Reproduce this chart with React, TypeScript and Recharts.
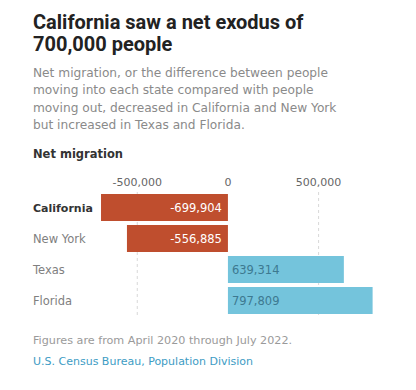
import React from 'react';
import {
  BarChart,
  Bar,
  XAxis,
  YAxis,
  CartesianGrid,
  Cell,
  LabelList,
} from 'recharts';

const states = ['California', 'New York', 'Texas', 'Florida'];
const netMigration = [-699904, -556885, 639314, 797809];
const xTicks = [-500000, 0, 500000];
const gridValues = [-500000, 500000];

const data = states.map((state, i) => ({ state, value: netMigration[i] }));

const RED = '#bf4e2e';
const BLUE = '#74c4dc';
const TITLE_FONT = 'Roboto, "Open Sans", sans-serif';
const FONT = '"DejaVu Sans", sans-serif';

const fmt = (v: number) => {
  const s = Math.abs(v).toLocaleString('en-US');
  return v < 0 ? '-' + s : s;
};

const StateTick = (props: any) => {
  const { y, payload } = props;
  const bold = payload.value === 'California';
  return (
    <text
      x={33}
      y={y}
      dy={4}
      textAnchor="start"
      fontFamily={FONT}
      fontSize={bold ? 11 : 11.5}
      fontWeight={bold ? 700 : 400}
      fill={bold ? '#333' : '#808080'}
    >
      {payload.value}
    </text>
  );
};

const ValueLabel = (props: any) => {
  const { x, y, width, height, value } = props;
  const neg = value < 0;
  // zero sits at the bar's edge nearest the axis origin
  const zero = neg ? Math.max(x, x + width) : Math.min(x, x + width);
  return (
    <text
      x={neg ? zero - 6 : zero + 4}
      y={y + height / 2}
      dy={4}
      textAnchor={neg ? 'end' : 'start'}
      fontFamily={FONT}
      fontSize={11.5}
      fill={neg ? '#fff' : '#3d7990'}
    >
      {fmt(value)}
    </text>
  );
};

export default function App() {
  return (
    <div
      style={{
        position: 'absolute',
        left: 0,
        top: 0,
        width: 416,
        height: 390,
        background: '#fff',
        fontFamily: FONT,
      }}
    >
      <div
        style={{
          position: 'absolute',
          left: 33,
          top: 11,
          fontFamily: TITLE_FONT,
          fontSize: 20,
          fontWeight: 700,
          lineHeight: '22px',
          color: '#222',
        }}
      >
        <div>California saw a net exodus of</div>
        <div>700,000 people</div>
      </div>
      <div
        style={{
          position: 'absolute',
          left: 33,
          top: 65,
          fontSize: 12.2,
          lineHeight: '17.3px',
          color: '#8a8a8a',
          whiteSpace: 'nowrap',
        }}
      >
        <div>Net migration, or the difference between people</div>
        <div>moving into each state compared with people</div>
        <div>moving out, decreased in California and New York</div>
        <div>but increased in Texas and Florida.</div>
      </div>
      <div
        style={{
          position: 'absolute',
          left: 33,
          top: 147,
          fontSize: 11.5,
          fontWeight: 700,
          color: '#333',
        }}
      >
        Net migration
      </div>
      <div style={{ position: 'absolute', left: 0, top: 150 }}>
        <BarChart
          width={416}
          height={170}
          data={data}
          layout="vertical"
          margin={{ top: 0, right: 43, left: 0, bottom: 4 }}
          barCategoryGap={2}
        >
          <CartesianGrid
            horizontal={false}
            verticalValues={gridValues}
            stroke="#d8d8d8"
            strokeDasharray="3 3"
          />
          <XAxis
            type="number"
            orientation="top"
            domain={[-700000, 800000]}
            ticks={xTicks}
            tickFormatter={fmt}
            axisLine={false}
            tickLine={false}
            tickSize={0}
            tickMargin={6}
            height={42}
            tick={{ fontSize: 11, fill: '#666', fontFamily: FONT }}
            interval={0}
          />
          <YAxis
            type="category"
            dataKey="state"
            width={101}
            axisLine={false}
            tickLine={false}
            tick={<StateTick />}
            interval={0}
          />
          <Bar dataKey="value" isAnimationActive={false}>
            {data.map((d) => (
              <Cell key={d.state} fill={d.value < 0 ? RED : BLUE} />
            ))}
            <LabelList dataKey="value" content={<ValueLabel />} />
          </Bar>
        </BarChart>
      </div>
      <div
        style={{
          position: 'absolute',
          left: 33,
          top: 334,
          fontSize: 11.2,
          color: '#9a9a9a',
        }}
      >
        Figures are from April 2020 through July 2022.
      </div>
      <div
        style={{
          position: 'absolute',
          left: 33,
          top: 355,
          fontSize: 11,
          color: '#3d9cc4',
        }}
      >
        U.S. Census Bureau, Population Division
      </div>
    </div>
  );
}
